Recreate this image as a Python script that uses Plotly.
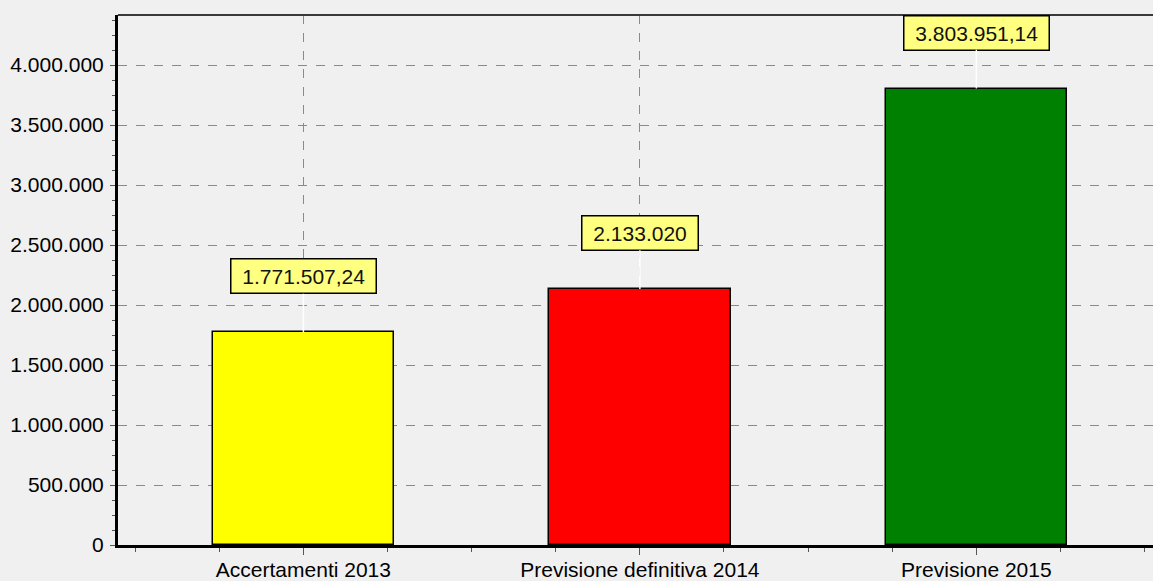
import plotly.graph_objects as go

categories = ["Accertamenti 2013", "Previsione definitiva 2014", "Previsione 2015"]
values = [1771507.24, 2133020, 3803951.14]
bar_colors = ["#FFFF00", "#FF0000", "#008000"]
y_tick_vals = [0, 500000, 1000000, 1500000, 2000000, 2500000, 3000000, 3500000, 4000000]


def fmt_it(v):
    if abs(v - round(v)) < 1e-9:
        s = f"{int(round(v)):,}".replace(",", ".")
    else:
        s = f"{v:,.2f}".replace(",", "X").replace(".", ",").replace("X", ".")
    return s


xs = list(range(len(categories)))
FONT = "Liberation Sans, Arial, sans-serif"

fig = go.Figure()
fig.add_trace(go.Bar(
    x=xs, y=values, width=0.54,
    marker=dict(color=bar_colors, line=dict(color="black", width=1.5)),
    hoverinfo="skip",
))

for x, v in zip(xs, values):
    fig.add_annotation(
        x=x, y=v, text="&nbsp;" + fmt_it(v) + "&nbsp;",
        showarrow=True, arrowhead=0, arrowcolor="white", arrowwidth=1.5,
        ax=0, ay=-56, standoff=0,
        bgcolor="#FFFF80", bordercolor="black", borderwidth=1.5, borderpad=5,
        font=dict(family=FONT, size=21, color="#111111"),
    )

# top border line
fig.add_shape(type="line", xref="paper", yref="paper", x0=0, x1=1, y0=1, y1=1,
              line=dict(color="#3a3a3a", width=2))

fig.update_layout(
    width=1153, height=581,
    margin=dict(l=118, r=0, t=15, b=36),
    paper_bgcolor="#F0F0F0", plot_bgcolor="#F0F0F0",
    separators=",.",
    showlegend=False,
    bargap=0,
    font=dict(family=FONT, size=21, color="black"),
)

fig.update_xaxes(
    range=[-0.551, 2.525],
    tickvals=xs, ticktext=categories,
    ticks="outside", ticklen=7, tickcolor="#555555", tickwidth=1,
    ticklabelstandoff=-3,
    showgrid=True, gridcolor="#8a8a8a", griddash="dash", gridwidth=1,
    showline=True, linecolor="black", linewidth=3,
    zeroline=False,
    tickfont=dict(family=FONT, size=21, color="black"),
    minor=dict(dtick=0.25, tick0=0, ticks="outside", ticklen=4, tickcolor="#555555", showgrid=False),
)

fig.update_yaxes(
    range=[0, 4416667],
    tickvals=y_tick_vals, tickformat=",d",
    ticks="outside", ticklen=5, tickcolor="#555555", tickwidth=1,
    ticklabelstandoff=2,
    showgrid=True, gridcolor="#8a8a8a", griddash="dash", gridwidth=1,
    showline=True, linecolor="black", linewidth=3,
    zeroline=False,
    tickfont=dict(family=FONT, size=21, color="black"),
    minor=dict(dtick=125000, tick0=0, ticks="outside", ticklen=3, tickcolor="#555555", showgrid=False),
)

fig.write_html(
    "out.html",
    config={"displayModeBar": False},
    post_script="document.body.style.margin='0';document.body.style.overflow='hidden';",
)
